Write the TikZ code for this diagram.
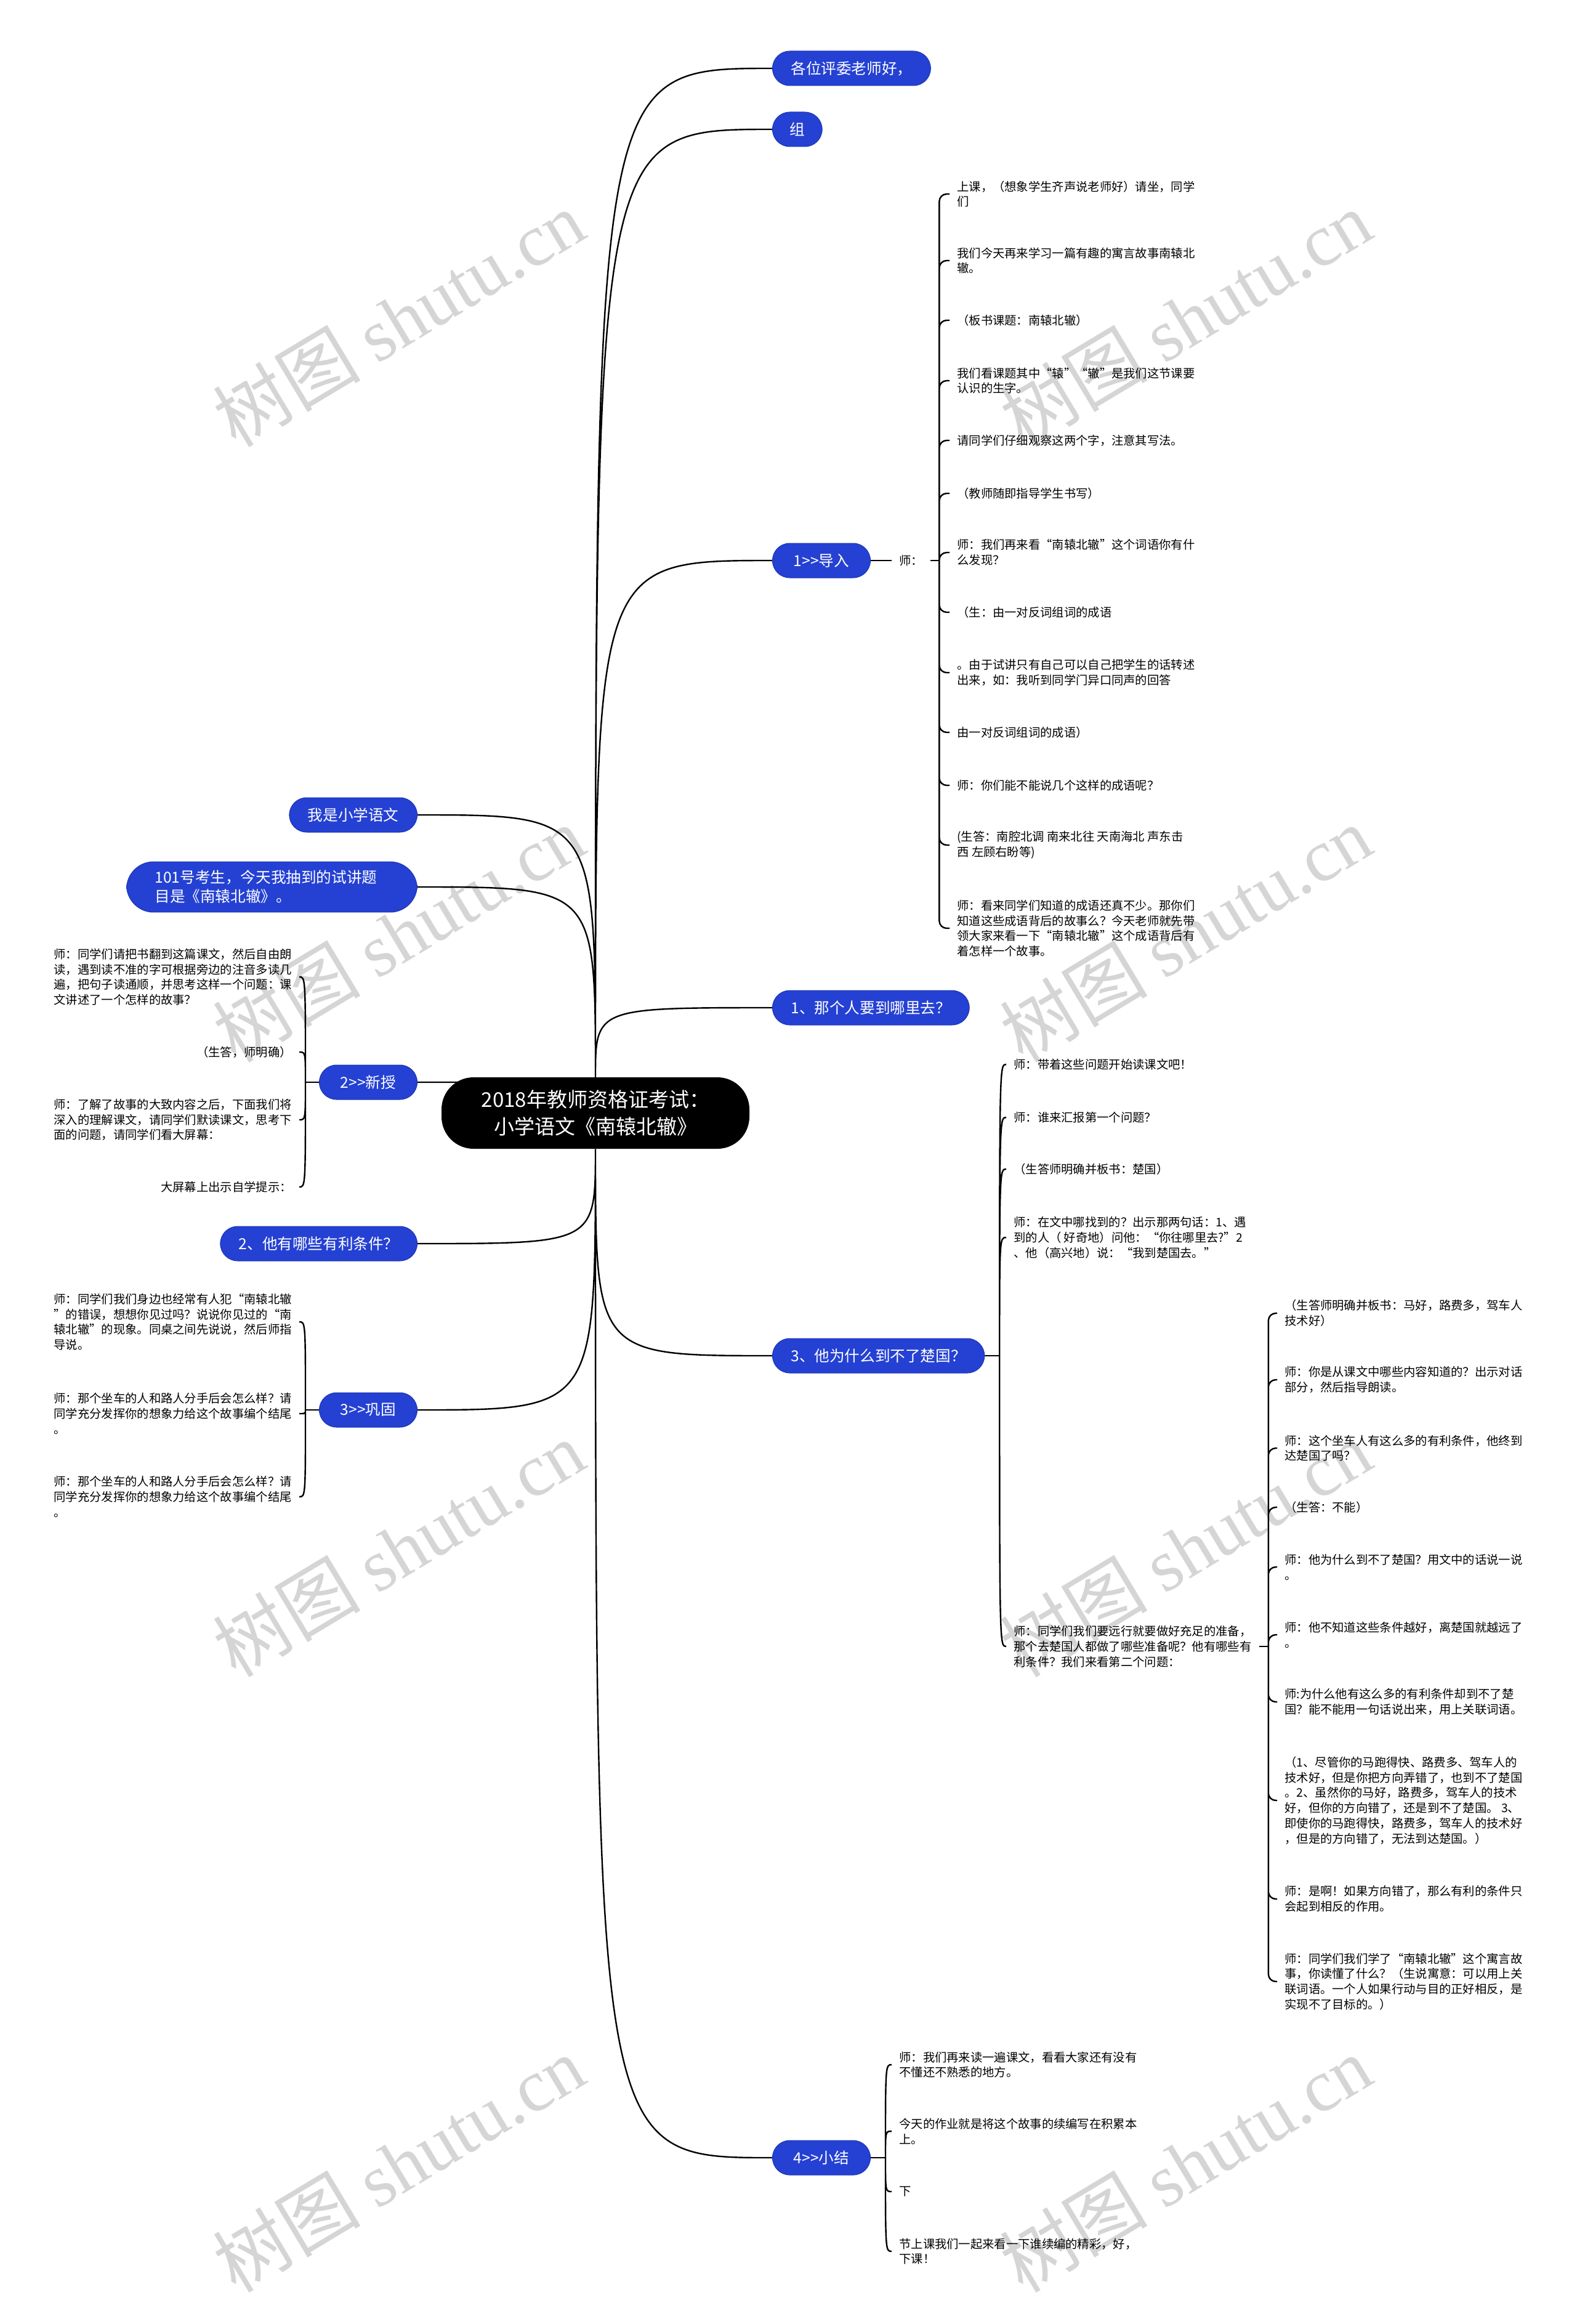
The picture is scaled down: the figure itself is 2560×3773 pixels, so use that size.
\documentclass[tikz,border=0pt]{standalone}
\usepackage{fontspec}
\setmainfont{Noto Sans CJK SC}
\newfontfamily\wmserif{Liberation Serif}
\usetikzlibrary{positioning,backgrounds}
\definecolor{pillBlue}{HTML}{2541D3}
\definecolor{pillEdge}{HTML}{1C34B2}
\definecolor{markGray}{HTML}{D5D5D5}

\begin{document}
\begin{tikzpicture}[x=0.5pt,y=-0.5pt,
    pill/.style={fill=pillBlue,draw=pillEdge,line width=0.5pt,text=white,rounded corners=14pt,
      minimum height=28pt,inner xsep=15pt,inner ysep=7pt,align=left,
      font=\fontsize{12.3pt}{15.5pt}\selectfont},
    steppill/.style={pill,inner xsep=17.2pt},
    rootbox/.style={fill=black,text=white,rounded corners=26pt,minimum width=250pt,
      minimum height=58pt,align=center,font=\fontsize{16.5pt}{22.3pt}\selectfont},
    leaf/.style={inner xsep=6pt,inner ysep=2pt,align=left,font=\fontsize{9.65pt}{12.4pt}\selectfont},
    stem/.style={line width=1.2pt},
    branch/.style={stem,to path={.. controls (\tikztostart |- \tikztotarget) .. (\tikztotarget)}},
    fan/.style={stem,to path={.. controls (\tikztostart |- \tikztotarget) .. (\tikztotarget)}},
    hook/.style={stem,rounded corners=6pt},
    watermark/.style={text=markGray,rotate=31,font=\fontsize{60pt}{60pt}\selectfont}]
\useasboundingbox (0,0) rectangle (2560,3773);

% centre and first level
\node[rootbox] (root) at (967,1807) {2018年教师资格证考试：\\小学语文《南辕北辙》};
\node[pill,anchor=west] (gewei) at (1254,111) {各位评委老师好，};
\node[pill,anchor=west,inner xsep=14pt] (zu) at (1254,210) {组};
\node[steppill,anchor=west] (daoru) at (1254,910) {1>{}>导入};
\node[pill,anchor=west] (whereto) at (1254,1636) {1、那个人要到哪里去？};
\node[pill,anchor=west] (whynot) at (1254,2201) {3、他为什么到不了楚国？};
\node[steppill,anchor=west] (xiaojie) at (1254,3503) {4>{}>小结};
\node[pill,anchor=east] (woshi) at (678,1323) {我是小学语文};
\node[pill,anchor=east,text width=190pt,inner xsep=23pt,rounded corners=22pt] (kaosheng) at (678,1440)
  {101号考生，今天我抽到的试讲题\\目是《南辕北辙》。};
\node[steppill,anchor=east] (xinshou) at (678,1757) {2>{}>新授};
\node[pill,anchor=east] (youli) at (678,2019) {2、他有哪些有利条件？};
\node[steppill,anchor=east] (gonggu) at (678,2289) {3>{}>巩固};

% 1>>导入
\node[leaf,right=17pt of daoru] (shi) {师：};
\coordinate[right=7pt of shi] (jA);
\node[leaf,anchor=west] (a1) at (1542,315) {上课，（想象学生齐声说老师好）请坐，同学\\们};
\node[leaf,anchor=west] (a2) at (1542,423) {我们今天再来学习一篇有趣的寓言故事南辕北\\辙。};
\node[leaf,anchor=west] (a3) at (1542,520) {（板书课题：南辕北辙）};
\node[leaf,anchor=west] (a4) at (1542,618) {我们看课题其中“辕”“辙”是我们这节课要\\认识的生字。};
\node[leaf,anchor=west] (a5) at (1542,715) {请同学们仔细观察这两个字，注意其写法。};
\node[leaf,anchor=west] (a6) at (1542,801) {（教师随即指导学生书写）};
\node[leaf,anchor=west] (a7) at (1542,897) {师：我们再来看“南辕北辙”这个词语你有什\\么发现？};
\node[leaf,anchor=west] (a8) at (1542,994) {（生：由一对反词组词的成语};
\node[leaf,anchor=west] (a9) at (1542,1092) {。由于试讲只有自己可以自己把学生的话转述\\出来，如：我听到同学门异口同声的回答};
\node[leaf,anchor=west] (a10) at (1542,1189) {由一对反词组词的成语）};
\node[leaf,anchor=west] (a11) at (1542,1275) {师：你们能不能说几个这样的成语呢？};
\node[leaf,anchor=west] (a12) at (1542,1372) {(生答：南腔北调 南来北往 天南海北 声东击\\西 左顾右盼等)};
\node[leaf,anchor=west] (a13) at (1542,1507) {师：看来同学们知道的成语还真不少。那你们\\知道这些成语背后的故事么？今天老师就先带\\领大家来看一下“南辕北辙”这个成语背后有\\着怎样一个故事。};

% 3、他为什么到不了楚国
\coordinate[right=12pt of whynot] (jB);
\node[leaf,anchor=west] (b1) at (1634,1728) {师：带着这些问题开始读课文吧！};
\node[leaf,anchor=west] (b2) at (1634,1814) {师：谁来汇报第一个问题？};
\node[leaf,anchor=west] (b3) at (1634,1898) {（生答师明确并板书：楚国）};
\node[leaf,anchor=west] (b4) at (1634,2009) {师：在文中哪找到的？出示那两句话：1、遇\\到的人（ 好奇地）问他：“你往哪里去?”2\\、他（高兴地）说：“我到楚国去。”};
\node[leaf,anchor=west] (b5) at (1634,2673) {师：同学们我们要远行就要做好充足的准备，\\那个去楚国人都做了哪些准备呢？他有哪些有\\利条件？我们来看第二个问题：};
\coordinate[right=7.5pt of b5] (jF);
\node[leaf,anchor=west] (f1) at (2074,2132) {（生答师明确并板书：马好，路费多，驾车人\\技术好）};
\node[leaf,anchor=west] (f2) at (2074,2240) {师：你是从课文中哪些内容知道的？出示对话\\部分，然后指导朗读。};
\node[leaf,anchor=west] (f3) at (2074,2351) {师：这个坐车人有这么多的有利条件，他终到\\达楚国了吗？};
\node[leaf,anchor=west] (f4) at (2074,2447) {（生答：不能）};
\node[leaf,anchor=west] (f5) at (2074,2544) {师：他为什么到不了楚国？用文中的话说一说\\。};
\node[leaf,anchor=west] (f6) at (2074,2654) {师：他不知道这些条件越好，离楚国就越远了\\。};
\node[leaf,anchor=west] (f7) at (2074,2763) {师:为什么他有这么多的有利条件却到不了楚\\国？能不能用一句话说出来，用上关联词语。};
\node[leaf,anchor=west] (f8) at (2074,2923) {（1、尽管你的马跑得快、路费多、驾车人的\\技术好，但是你把方向弄错了，也到不了楚国\\。2、虽然你的马好，路费多，驾车人的技术\\好，但你的方向错了，还是到不了楚国。 3、\\即使你的马跑得快，路费多，驾车人的技术好\\，但是的方向错了，无法到达楚国。）};
\node[leaf,anchor=west] (f9) at (2074,3083) {师：是啊！如果方向错了，那么有利的条件只\\会起到相反的作用。};
\node[leaf,anchor=west] (f10) at (2074,3217) {师：同学们我们学了“南辕北辙”这个寓言故\\事，你读懂了什么？（生说寓意：可以用上关\\联词语。一个人如果行动与目的正好相反，是\\实现不了目标的。）};

% 4>>小结
\coordinate[right=12pt of xiaojie] (jE);
\node[leaf,anchor=west] (e1) at (1448,3352) {师：我们再来读一遍课文，看看大家还有没有\\不懂还不熟悉的地方。};
\node[leaf,anchor=west] (e2) at (1448,3460) {今天的作业就是将这个故事的续编写在积累本\\上。};
\node[leaf,anchor=west] (e3) at (1448,3558) {下};
\node[leaf,anchor=west] (e4) at (1448,3655) {节上课我们一起来看一下谁续编的精彩，好，\\下课！};

% 2>>新授
\coordinate[left=11pt of xinshou] (jC);
\node[leaf,anchor=east] (c1) at (486,1586) {师：同学们请把书翻到这篇课文，然后自由朗\\读，遇到读不准的字可根据旁边的注音多读几\\遍，把句子读通顺，并思考这样一个问题：课\\文讲述了一个怎样的故事？};
\node[leaf,anchor=east] (c2) at (486,1708) {（生答，师明确）};
\node[leaf,anchor=east] (c3) at (486,1818) {师：了解了故事的大致内容之后，下面我们将\\深入的理解课文，请同学们默读课文，思考下\\面的问题，请同学们看大屏幕：};
\node[leaf,anchor=east] (c4) at (486,1927) {大屏幕上出示自学提示：};

% 3>>巩固
\coordinate[left=11pt of gonggu] (jD);
\node[leaf,anchor=east] (d1) at (486,2146) {师：同学们我们身边也经常有人犯“南辕北辙\\”的错误，想想你见过吗？说说你见过的“南\\辕北辙”的现象。同桌之间先说说，然后师指\\导说。};
\node[leaf,anchor=east] (d2) at (486,2295) {师：那个坐车的人和路人分手后会怎么样？请\\同学充分发挥你的想象力给这个故事编个结尾\\。};
\node[leaf,anchor=east] (d3) at (486,2430) {师：那个坐车的人和路人分手后会怎么样？请\\同学充分发挥你的想象力给这个故事编个结尾\\。};

\begin{scope}[on background layer]
  \fill[white] (0,0) rectangle (2560,3773);
  \foreach \wx/\wy [count=\i] in {647/517,1925/517,647/1516,1925/1516,647/2514,1925/2514,647/3513,1925/3513}
    \node[watermark] (wm\i) at (\wx,\wy) {树图 {\wmserif shutu.cn}};
  % root to branches
  \draw[branch] (root.north) to (gewei.west) (root.north) to (zu.west)
    (root.north) to (daoru.west) (root.north) to (whereto.west)
    (root.north) to (woshi.east) (root.north) to (kaosheng.east) (root.north) to (xinshou.east);
  \draw[branch] (root.south) to (whynot.west) (root.south) to (xiaojie.west)
    (root.south) to (youli.east) (root.south) to (gonggu.east);
  % leaf brackets
  \draw[stem] (daoru) -- (shi) (shi) -- (jA);
  \draw[hook] (jA) |- (a1.west) (jA) |- (a2.west) (jA) |- (a3.west) (jA) |- (a4.west)
    (jA) |- (a5.west) (jA) |- (a6.west) (jA) |- (a7.west) (jA) |- (a8.west) (jA) |- (a9.west)
    (jA) |- (a10.west) (jA) |- (a11.west) (jA) |- (a12.west) (jA) |- (a13.west);
  \draw[stem] (whynot) -- (jB);
  \draw[fan] (jB) to (b1.west) (jB) to (b2.west) (jB) to (b3.west) (jB) to (b4.west) (jB) to (b5.west);
  \draw[stem] (b5) -- (jF);
  \draw[hook] (jF) |- (f1.west) (jF) |- (f2.west) (jF) |- (f3.west) (jF) |- (f4.west) (jF) |- (f5.west)
    (jF) |- (f6.west) (jF) |- (f7.west) (jF) |- (f8.west) (jF) |- (f9.west) (jF) |- (f10.west);
  \draw[stem] (xiaojie) -- (jE);
  \draw[fan] (jE) to (e1.west) (jE) to (e2.west) (jE) to (e3.west) (jE) to (e4.west);
  \draw[stem] (xinshou) -- (jC);
  \draw[fan] (jC) to (c1.east) (jC) to (c2.east) (jC) to (c3.east) (jC) to (c4.east);
  \draw[stem] (gonggu) -- (jD);
  \draw[fan] (jD) to (d1.east) (jD) to (d2.east) (jD) to (d3.east);
\end{scope}
\end{tikzpicture}
\end{document}
